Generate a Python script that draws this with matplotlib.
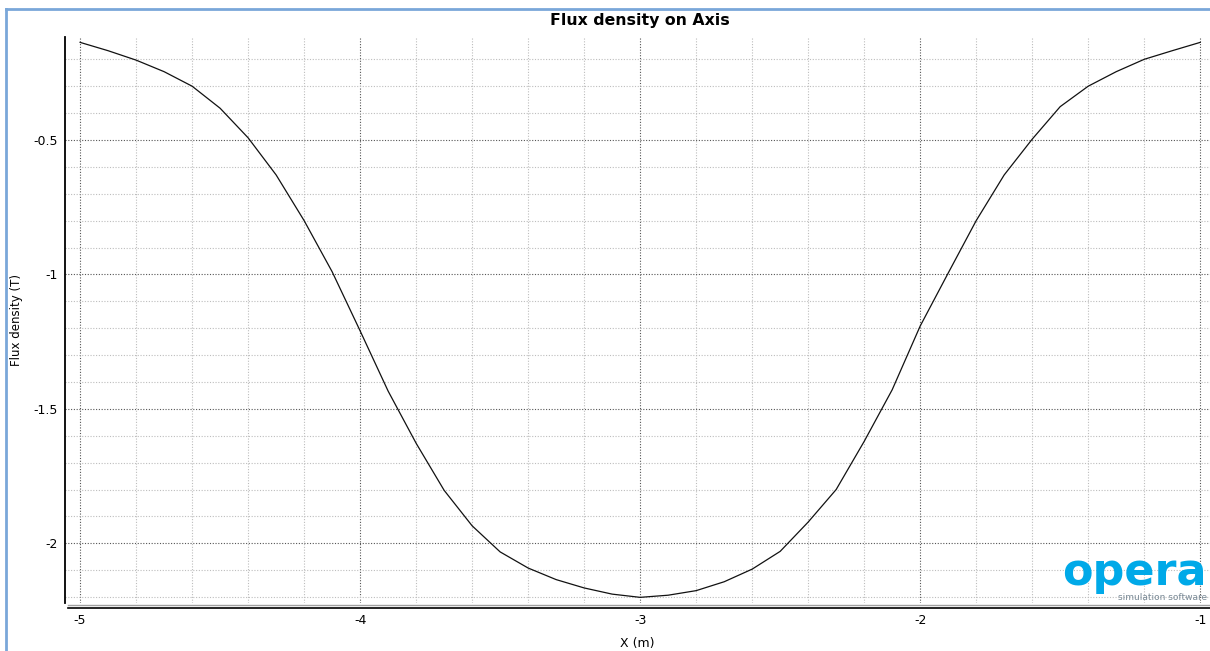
import numpy as np
import matplotlib
matplotlib.use('Agg')
import matplotlib.pyplot as plt
from matplotlib.lines import Line2D
from matplotlib.ticker import MultipleLocator
from matplotlib.transforms import offset_copy

plt.rcParams['font.family'] = 'DejaVu Sans'
plt.rcParams['axes.unicode_minus'] = False

# values (x in m, flux density in T)
x_pos = [-5.0, -4.9, -4.8, -4.7, -4.6, -4.5, -4.4, -4.3, -4.2, -4.1, -4.0,
         -3.9, -3.8, -3.7, -3.6, -3.5, -3.4, -3.3, -3.2, -3.1, -3.0,
         -2.9, -2.8, -2.7, -2.6, -2.5, -2.4, -2.3, -2.2, -2.1, -2.0,
         -1.9, -1.8, -1.7, -1.6, -1.5, -1.4, -1.3, -1.2, -1.1, -1.0]
flux = [-0.137, -0.168, -0.203, -0.246, -0.300, -0.382, -0.492, -0.630, -0.800, -0.990, -1.210,
        -1.434, -1.628, -1.803, -1.935, -2.032, -2.092, -2.135, -2.166, -2.189, -2.201,
        -2.193, -2.176, -2.143, -2.096, -2.030, -1.921, -1.800, -1.621, -1.429, -1.192,
        -0.995, -0.800, -0.630, -0.497, -0.376, -0.300, -0.246, -0.200, -0.168, -0.137]

y_ticks = [-0.5, -1, -1.5, -2]
y_ticklabels = ['-0.5', '-1', '-1.5', '-2']
x_ticks = [-5, -4, -3, -2, -1]

W, H = 1210, 651
fig = plt.figure(figsize=(W / 100, H / 100), dpi=100)
ax = fig.add_axes([65 / W, (H - 603) / H, (W - 65) / W, (603 - 37) / H])

ax.plot(x_pos, flux, color='#111111', lw=0.9)

ax.set_xlim(-5.054, -0.965)
ax.set_ylim(-2.222, -0.117)

ax.set_xticks(x_ticks)
ax.set_xticklabels([str(v) for v in x_ticks])
ax.xaxis.set_minor_locator(MultipleLocator(0.2))
ax.set_yticks(y_ticks)
ax.set_yticklabels(y_ticklabels)
ax.yaxis.set_minor_locator(MultipleLocator(0.1))

ax.grid(which='minor', color='#bdbdbd', lw=0.8, linestyle=(0, (1, 1.5)))
ax.grid(which='major', color='#555555', lw=0.8, linestyle=(0, (1, 1.5)))
ax.set_axisbelow(True)

ax.tick_params(which='both', length=0)
ax.tick_params(axis='x', pad=8, labelsize=9)
ax.tick_params(axis='y', pad=5, labelsize=9)

for s in ['top', 'right', 'bottom']:
    ax.spines[s].set_visible(False)
ax.spines['left'].set_linewidth(1.3)

# double line under the plot area
base = offset_copy(ax.transAxes, fig=fig, y=-2, units='dots')
ax.add_line(Line2D([3 / 1145, 1], [0, 0], transform=base, color='#a0a0a0', lw=1, clip_on=False))
base2 = offset_copy(ax.transAxes, fig=fig, y=-4.5, units='dots')
ax.add_line(Line2D([3 / 1145, 1], [0, 0], transform=base2, color='black', lw=1.2, clip_on=False))

ax.set_xlabel('X (m)', fontsize=9, va='center')
ax.xaxis.set_label_coords(0.5, -(643 - 603) / 566)
ax.set_ylabel('Flux density (T)', fontsize=8.5, va='center')
ax.yaxis.set_label_coords(-(65 - 17) / 1145, 0.5)

fig.text(640 / W, 1 - 20 / H, 'Flux density on Axis', ha='center', va='center',
         fontsize=11.3, fontweight='bold')

# opera logo
fig.text(1207 / W, 1 - 585 / H, 'opera', ha='right', va='baseline', fontsize=32,
         fontweight='bold', color='#00a9e8')
fig.text(1207 / W, 1 - 597 / H, 'simulation software', ha='right', va='center',
         fontsize=6.5, color='#7a8a96')

# window frame
fig.add_artist(Line2D([6 / W, 6 / W], [0, 1 - 9 / H], transform=fig.transFigure,
                      color='#7aa7d9', lw=2))
fig.add_artist(Line2D([6 / W, 1], [1 - 9 / H, 1 - 9 / H], transform=fig.transFigure,
                      color='#7aa7d9', lw=2))

fig.savefig('out.png', dpi=100)
